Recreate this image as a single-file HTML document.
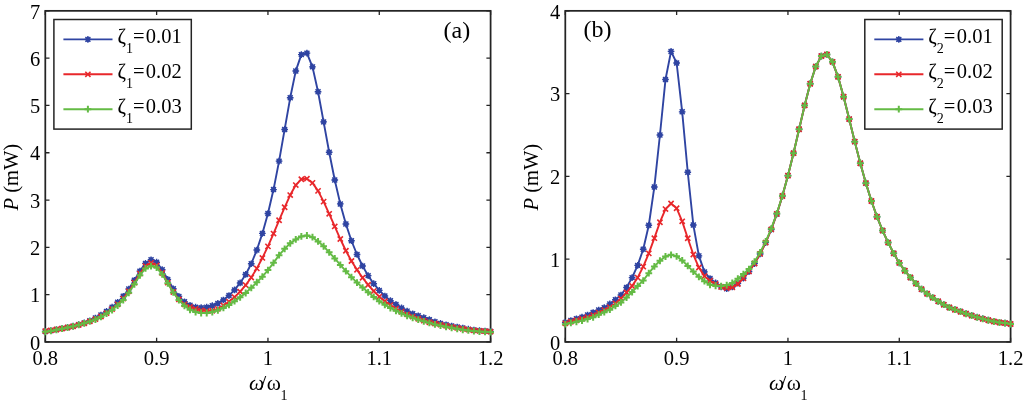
<!DOCTYPE html>
<html><head><meta charset="utf-8"><style>
html,body{margin:0;padding:0;background:#fff;overflow:hidden;}
svg{display:block;will-change:transform;}
text{font-family:"Liberation Serif",serif;font-size:20.5px;fill:#000;}
</style></head><body>
<svg width="1024" height="402" viewBox="0 0 1024 402">
<rect width="1024" height="402" fill="#fff"/>
<rect x="45.3" y="10.85" width="445.3" height="331.09999999999997" fill="none" stroke="#242424" stroke-width="1.75"/>
<path d="M45.30 341.95V337.75M45.30 10.85V15.05M156.62 341.95V337.75M156.62 10.85V15.05M267.95 341.95V337.75M267.95 10.85V15.05M379.28 341.95V337.75M379.28 10.85V15.05M490.60 341.95V337.75M490.60 10.85V15.05M45.3 341.95H49.5M490.6 341.95H486.40000000000003M45.3 294.65H49.5M490.6 294.65H486.40000000000003M45.3 247.35H49.5M490.6 247.35H486.40000000000003M45.3 200.05H49.5M490.6 200.05H486.40000000000003M45.3 152.75H49.5M490.6 152.75H486.40000000000003M45.3 105.45H49.5M490.6 105.45H486.40000000000003M45.3 58.15H49.5M490.6 58.15H486.40000000000003M45.3 10.85H49.5M490.6 10.85H486.40000000000003" stroke="#242424" stroke-width="1.3" fill="none"/>
<text x="45.30" y="365.3" text-anchor="middle">0.8</text>
<text x="156.62" y="365.3" text-anchor="middle">0.9</text>
<text x="267.95" y="365.3" text-anchor="middle">1</text>
<text x="379.28" y="365.3" text-anchor="middle">1.1</text>
<text x="490.60" y="365.3" text-anchor="middle">1.2</text>
<text x="40.30" y="349.65" text-anchor="end">0</text>
<text x="40.30" y="302.35" text-anchor="end">1</text>
<text x="40.30" y="255.05" text-anchor="end">2</text>
<text x="40.30" y="207.75" text-anchor="end">3</text>
<text x="40.30" y="160.45" text-anchor="end">4</text>
<text x="40.30" y="113.15" text-anchor="end">5</text>
<text x="40.30" y="65.85" text-anchor="end">6</text>
<text x="40.30" y="18.55" text-anchor="end">7</text>
<rect x="565.3" y="10.85" width="445.3" height="331.09999999999997" fill="none" stroke="#242424" stroke-width="1.75"/>
<path d="M565.30 341.95V337.75M565.30 10.85V15.05M676.62 341.95V337.75M676.62 10.85V15.05M787.95 341.95V337.75M787.95 10.85V15.05M899.28 341.95V337.75M899.28 10.85V15.05M1010.60 341.95V337.75M1010.60 10.85V15.05M565.3 341.95H569.5M1010.5999999999999 341.95H1006.3999999999999M565.3 259.18H569.5M1010.5999999999999 259.18H1006.3999999999999M565.3 176.40H569.5M1010.5999999999999 176.40H1006.3999999999999M565.3 93.62H569.5M1010.5999999999999 93.62H1006.3999999999999M565.3 10.85H569.5M1010.5999999999999 10.85H1006.3999999999999" stroke="#242424" stroke-width="1.3" fill="none"/>
<text x="565.30" y="365.3" text-anchor="middle">0.8</text>
<text x="676.62" y="365.3" text-anchor="middle">0.9</text>
<text x="787.95" y="365.3" text-anchor="middle">1</text>
<text x="899.28" y="365.3" text-anchor="middle">1.1</text>
<text x="1010.60" y="365.3" text-anchor="middle">1.2</text>
<text x="560.30" y="349.65" text-anchor="end">0</text>
<text x="560.30" y="266.88" text-anchor="end">1</text>
<text x="560.30" y="184.10" text-anchor="end">2</text>
<text x="560.30" y="101.33" text-anchor="end">3</text>
<text x="560.30" y="18.55" text-anchor="end">4</text>
<path d="M45.30 331.46 L50.87 330.64 L56.43 329.62 L62.00 328.56 L67.56 327.44 L73.13 326.15 L78.70 324.67 L84.26 322.93 L89.83 320.74 L95.40 318.01 L100.96 314.99 L106.53 311.43 L112.09 307.22 L117.66 302.30 L123.23 296.33 L128.79 288.98 L134.36 280.28 L139.93 271.12 L145.49 263.38 L151.06 259.79 L156.62 262.21 L162.19 269.72 L167.76 279.39 L173.32 288.80 L178.89 296.41 L184.46 301.82 L190.02 305.31 L195.59 307.15 L201.15 307.71 L206.72 307.13 L212.29 305.69 L217.85 303.40 L223.42 300.01 L228.99 295.57 L234.55 289.95 L240.12 282.96 L245.68 274.44 L251.25 263.74 L256.82 250.05 L262.38 233.39 L267.95 213.50 L273.52 189.59 L279.08 161.12 L284.65 129.44 L290.21 97.81 L295.78 70.93 L301.35 54.60 L306.91 53.12 L312.48 66.86 L318.05 91.79 L323.61 121.90 L329.18 152.25 L334.75 179.97 L340.31 203.91 L345.88 224.06 L351.44 240.74 L357.01 254.50 L362.58 265.98 L368.14 275.65 L373.71 283.71 L379.28 290.40 L384.84 296.01 L390.41 300.63 L395.97 304.46 L401.54 307.93 L407.11 311.11 L412.67 313.84 L418.24 315.73 L423.80 317.63 L429.37 319.61 L434.94 321.74 L440.50 323.46 L446.07 324.80 L451.64 325.98 L457.20 327.02 L462.77 328.04 L468.33 329.16 L473.90 330.01 L479.47 330.62 L485.03 330.99 L490.60 331.54" fill="none" stroke="#2f44a2" stroke-width="1.9" stroke-linejoin="round"/>
<g stroke="#2f44a2" stroke-width="1.4" fill="none"><path d="M41.95 331.46H48.65M45.30 328.11V334.81M42.82 328.98L47.78 333.94M42.82 333.94L47.78 328.98"/><circle cx="45.30" cy="331.46" r="2.5" fill="#2f44a2" stroke="none"/><path d="M47.52 330.64H54.22M50.87 327.29V333.99M48.39 328.16L53.35 333.12M48.39 333.12L53.35 328.16"/><circle cx="50.87" cy="330.64" r="2.5" fill="#2f44a2" stroke="none"/><path d="M53.08 329.62H59.78M56.43 326.27V332.97M53.95 327.14L58.91 332.10M53.95 332.10L58.91 327.14"/><circle cx="56.43" cy="329.62" r="2.5" fill="#2f44a2" stroke="none"/><path d="M58.65 328.56H65.35M62.00 325.21V331.91M59.52 326.08L64.48 331.04M59.52 331.04L64.48 326.08"/><circle cx="62.00" cy="328.56" r="2.5" fill="#2f44a2" stroke="none"/><path d="M64.21 327.44H70.91M67.56 324.09V330.79M65.09 324.96L70.04 329.91M65.09 329.91L70.04 324.96"/><circle cx="67.56" cy="327.44" r="2.5" fill="#2f44a2" stroke="none"/><path d="M69.78 326.15H76.48M73.13 322.80V329.50M70.65 323.67L75.61 328.63M70.65 328.63L75.61 323.67"/><circle cx="73.13" cy="326.15" r="2.5" fill="#2f44a2" stroke="none"/><path d="M75.35 324.67H82.05M78.70 321.32V328.02M76.22 322.19L81.18 327.15M76.22 327.15L81.18 322.19"/><circle cx="78.70" cy="324.67" r="2.5" fill="#2f44a2" stroke="none"/><path d="M80.91 322.93H87.61M84.26 319.58V326.28M81.78 320.45L86.74 325.41M81.78 325.41L86.74 320.45"/><circle cx="84.26" cy="322.93" r="2.5" fill="#2f44a2" stroke="none"/><path d="M86.48 320.74H93.18M89.83 317.39V324.09M87.35 318.26L92.31 323.22M87.35 323.22L92.31 318.26"/><circle cx="89.83" cy="320.74" r="2.5" fill="#2f44a2" stroke="none"/><path d="M92.05 318.01H98.75M95.40 314.66V321.36M92.92 315.53L97.88 320.49M92.92 320.49L97.88 315.53"/><circle cx="95.40" cy="318.01" r="2.5" fill="#2f44a2" stroke="none"/><path d="M97.61 314.99H104.31M100.96 311.64V318.34M98.48 312.52L103.44 317.47M98.48 317.47L103.44 312.52"/><circle cx="100.96" cy="314.99" r="2.5" fill="#2f44a2" stroke="none"/><path d="M103.18 311.43H109.88M106.53 308.08V314.78M104.05 308.95L109.01 313.91M104.05 313.91L109.01 308.95"/><circle cx="106.53" cy="311.43" r="2.5" fill="#2f44a2" stroke="none"/><path d="M108.74 307.22H115.44M112.09 303.87V310.57M109.62 304.74L114.57 309.69M109.62 309.69L114.57 304.74"/><circle cx="112.09" cy="307.22" r="2.5" fill="#2f44a2" stroke="none"/><path d="M114.31 302.30H121.01M117.66 298.95V305.65M115.18 299.82L120.14 304.78M115.18 304.78L120.14 299.82"/><circle cx="117.66" cy="302.30" r="2.5" fill="#2f44a2" stroke="none"/><path d="M119.88 296.33H126.58M123.23 292.98V299.68M120.75 293.85L125.71 298.80M120.75 298.80L125.71 293.85"/><circle cx="123.23" cy="296.33" r="2.5" fill="#2f44a2" stroke="none"/><path d="M125.44 288.98H132.14M128.79 285.63V292.33M126.31 286.50L131.27 291.46M126.31 291.46L131.27 286.50"/><circle cx="128.79" cy="288.98" r="2.5" fill="#2f44a2" stroke="none"/><path d="M131.01 280.28H137.71M134.36 276.93V283.63M131.88 277.80L136.84 282.76M131.88 282.76L136.84 277.80"/><circle cx="134.36" cy="280.28" r="2.5" fill="#2f44a2" stroke="none"/><path d="M136.58 271.12H143.28M139.93 267.77V274.47M137.45 268.64L142.41 273.60M137.45 273.60L142.41 268.64"/><circle cx="139.93" cy="271.12" r="2.5" fill="#2f44a2" stroke="none"/><path d="M142.14 263.38H148.84M145.49 260.03V266.73M143.01 260.90L147.97 265.86M143.01 265.86L147.97 260.90"/><circle cx="145.49" cy="263.38" r="2.5" fill="#2f44a2" stroke="none"/><path d="M147.71 259.79H154.41M151.06 256.44V263.14M148.58 257.31L153.54 262.26M148.58 262.26L153.54 257.31"/><circle cx="151.06" cy="259.79" r="2.5" fill="#2f44a2" stroke="none"/><path d="M153.27 262.21H159.97M156.62 258.86V265.56M154.15 259.73L159.10 264.69M154.15 264.69L159.10 259.73"/><circle cx="156.62" cy="262.21" r="2.5" fill="#2f44a2" stroke="none"/><path d="M158.84 269.72H165.54M162.19 266.37V273.07M159.71 267.24L164.67 272.20M159.71 272.20L164.67 267.24"/><circle cx="162.19" cy="269.72" r="2.5" fill="#2f44a2" stroke="none"/><path d="M164.41 279.39H171.11M167.76 276.04V282.74M165.28 276.91L170.24 281.87M165.28 281.87L170.24 276.91"/><circle cx="167.76" cy="279.39" r="2.5" fill="#2f44a2" stroke="none"/><path d="M169.97 288.80H176.67M173.32 285.45V292.15M170.84 286.32L175.80 291.28M170.84 291.28L175.80 286.32"/><circle cx="173.32" cy="288.80" r="2.5" fill="#2f44a2" stroke="none"/><path d="M175.54 296.41H182.24M178.89 293.06V299.76M176.41 293.93L181.37 298.89M176.41 298.89L181.37 293.93"/><circle cx="178.89" cy="296.41" r="2.5" fill="#2f44a2" stroke="none"/><path d="M181.11 301.82H187.81M184.46 298.47V305.17M181.98 299.34L186.94 304.30M181.98 304.30L186.94 299.34"/><circle cx="184.46" cy="301.82" r="2.5" fill="#2f44a2" stroke="none"/><path d="M186.67 305.31H193.37M190.02 301.96V308.66M187.54 302.83L192.50 307.79M187.54 307.79L192.50 302.83"/><circle cx="190.02" cy="305.31" r="2.5" fill="#2f44a2" stroke="none"/><path d="M192.24 307.15H198.94M195.59 303.80V310.50M193.11 304.67L198.07 309.63M193.11 309.63L198.07 304.67"/><circle cx="195.59" cy="307.15" r="2.5" fill="#2f44a2" stroke="none"/><path d="M197.80 307.71H204.50M201.15 304.36V311.06M198.68 305.23L203.63 310.19M198.68 310.19L203.63 305.23"/><circle cx="201.15" cy="307.71" r="2.5" fill="#2f44a2" stroke="none"/><path d="M203.37 307.13H210.07M206.72 303.78V310.48M204.24 304.65L209.20 309.61M204.24 309.61L209.20 304.65"/><circle cx="206.72" cy="307.13" r="2.5" fill="#2f44a2" stroke="none"/><path d="M208.94 305.69H215.64M212.29 302.34V309.04M209.81 303.22L214.77 308.17M209.81 308.17L214.77 303.22"/><circle cx="212.29" cy="305.69" r="2.5" fill="#2f44a2" stroke="none"/><path d="M214.50 303.40H221.20M217.85 300.05V306.75M215.37 300.93L220.33 305.88M215.37 305.88L220.33 300.93"/><circle cx="217.85" cy="303.40" r="2.5" fill="#2f44a2" stroke="none"/><path d="M220.07 300.01H226.77M223.42 296.66V303.36M220.94 297.54L225.90 302.49M220.94 302.49L225.90 297.54"/><circle cx="223.42" cy="300.01" r="2.5" fill="#2f44a2" stroke="none"/><path d="M225.64 295.57H232.34M228.99 292.22V298.92M226.51 293.09L231.47 298.05M226.51 298.05L231.47 293.09"/><circle cx="228.99" cy="295.57" r="2.5" fill="#2f44a2" stroke="none"/><path d="M231.20 289.95H237.90M234.55 286.60V293.30M232.07 287.47L237.03 292.43M232.07 292.43L237.03 287.47"/><circle cx="234.55" cy="289.95" r="2.5" fill="#2f44a2" stroke="none"/><path d="M236.77 282.96H243.47M240.12 279.61V286.31M237.64 280.48L242.60 285.44M237.64 285.44L242.60 280.48"/><circle cx="240.12" cy="282.96" r="2.5" fill="#2f44a2" stroke="none"/><path d="M242.33 274.44H249.03M245.68 271.09V277.79M243.21 271.96L248.16 276.92M243.21 276.92L248.16 271.96"/><circle cx="245.68" cy="274.44" r="2.5" fill="#2f44a2" stroke="none"/><path d="M247.90 263.74H254.60M251.25 260.39V267.09M248.77 261.26L253.73 266.21M248.77 266.21L253.73 261.26"/><circle cx="251.25" cy="263.74" r="2.5" fill="#2f44a2" stroke="none"/><path d="M253.47 250.05H260.17M256.82 246.70V253.40M254.34 247.57L259.30 252.52M254.34 252.52L259.30 247.57"/><circle cx="256.82" cy="250.05" r="2.5" fill="#2f44a2" stroke="none"/><path d="M259.03 233.39H265.73M262.38 230.04V236.74M259.90 230.91L264.86 235.87M259.90 235.87L264.86 230.91"/><circle cx="262.38" cy="233.39" r="2.5" fill="#2f44a2" stroke="none"/><path d="M264.60 213.50H271.30M267.95 210.15V216.85M265.47 211.02L270.43 215.98M265.47 215.98L270.43 211.02"/><circle cx="267.95" cy="213.50" r="2.5" fill="#2f44a2" stroke="none"/><path d="M270.17 189.59H276.87M273.52 186.24V192.94M271.04 187.11L276.00 192.07M271.04 192.07L276.00 187.11"/><circle cx="273.52" cy="189.59" r="2.5" fill="#2f44a2" stroke="none"/><path d="M275.73 161.12H282.43M279.08 157.77V164.47M276.60 158.64L281.56 163.60M276.60 163.60L281.56 158.64"/><circle cx="279.08" cy="161.12" r="2.5" fill="#2f44a2" stroke="none"/><path d="M281.30 129.44H288.00M284.65 126.09V132.79M282.17 126.97L287.13 131.92M282.17 131.92L287.13 126.97"/><circle cx="284.65" cy="129.44" r="2.5" fill="#2f44a2" stroke="none"/><path d="M286.86 97.81H293.56M290.21 94.46V101.16M287.74 95.33L292.69 100.28M287.74 100.28L292.69 95.33"/><circle cx="290.21" cy="97.81" r="2.5" fill="#2f44a2" stroke="none"/><path d="M292.43 70.93H299.13M295.78 67.58V74.28M293.30 68.45L298.26 73.41M293.30 73.41L298.26 68.45"/><circle cx="295.78" cy="70.93" r="2.5" fill="#2f44a2" stroke="none"/><path d="M298.00 54.60H304.70M301.35 51.25V57.95M298.87 52.12L303.83 57.08M298.87 57.08L303.83 52.12"/><circle cx="301.35" cy="54.60" r="2.5" fill="#2f44a2" stroke="none"/><path d="M303.56 53.12H310.26M306.91 49.77V56.47M304.43 50.64L309.39 55.59M304.43 55.59L309.39 50.64"/><circle cx="306.91" cy="53.12" r="2.5" fill="#2f44a2" stroke="none"/><path d="M309.13 66.86H315.83M312.48 63.51V70.21M310.00 64.38L314.96 69.34M310.00 69.34L314.96 64.38"/><circle cx="312.48" cy="66.86" r="2.5" fill="#2f44a2" stroke="none"/><path d="M314.70 91.79H321.40M318.05 88.44V95.14M315.57 89.31L320.53 94.26M315.57 94.26L320.53 89.31"/><circle cx="318.05" cy="91.79" r="2.5" fill="#2f44a2" stroke="none"/><path d="M320.26 121.90H326.96M323.61 118.55V125.25M321.13 119.42L326.09 124.38M321.13 124.38L326.09 119.42"/><circle cx="323.61" cy="121.90" r="2.5" fill="#2f44a2" stroke="none"/><path d="M325.83 152.25H332.53M329.18 148.90V155.60M326.70 149.77L331.66 154.73M326.70 154.73L331.66 149.77"/><circle cx="329.18" cy="152.25" r="2.5" fill="#2f44a2" stroke="none"/><path d="M331.39 179.97H338.10M334.75 176.62V183.32M332.27 177.49L337.22 182.45M332.27 182.45L337.22 177.49"/><circle cx="334.75" cy="179.97" r="2.5" fill="#2f44a2" stroke="none"/><path d="M336.96 203.91H343.66M340.31 200.56V207.26M337.83 201.43L342.79 206.39M337.83 206.39L342.79 201.43"/><circle cx="340.31" cy="203.91" r="2.5" fill="#2f44a2" stroke="none"/><path d="M342.53 224.06H349.23M345.88 220.71V227.41M343.40 221.58L348.36 226.54M343.40 226.54L348.36 221.58"/><circle cx="345.88" cy="224.06" r="2.5" fill="#2f44a2" stroke="none"/><path d="M348.09 240.74H354.79M351.44 237.39V244.09M348.96 238.26L353.92 243.22M348.96 243.22L353.92 238.26"/><circle cx="351.44" cy="240.74" r="2.5" fill="#2f44a2" stroke="none"/><path d="M353.66 254.50H360.36M357.01 251.15V257.85M354.53 252.02L359.49 256.98M354.53 256.98L359.49 252.02"/><circle cx="357.01" cy="254.50" r="2.5" fill="#2f44a2" stroke="none"/><path d="M359.23 265.98H365.93M362.58 262.63V269.33M360.10 263.50L365.06 268.46M360.10 268.46L365.06 263.50"/><circle cx="362.58" cy="265.98" r="2.5" fill="#2f44a2" stroke="none"/><path d="M364.79 275.65H371.49M368.14 272.30V279.00M365.66 273.17L370.62 278.13M365.66 278.13L370.62 273.17"/><circle cx="368.14" cy="275.65" r="2.5" fill="#2f44a2" stroke="none"/><path d="M370.36 283.71H377.06M373.71 280.36V287.06M371.23 281.23L376.19 286.19M371.23 286.19L376.19 281.23"/><circle cx="373.71" cy="283.71" r="2.5" fill="#2f44a2" stroke="none"/><path d="M375.93 290.40H382.63M379.28 287.05V293.75M376.80 287.92L381.75 292.88M376.80 292.88L381.75 287.92"/><circle cx="379.28" cy="290.40" r="2.5" fill="#2f44a2" stroke="none"/><path d="M381.49 296.01H388.19M384.84 292.66V299.36M382.36 293.53L387.32 298.49M382.36 298.49L387.32 293.53"/><circle cx="384.84" cy="296.01" r="2.5" fill="#2f44a2" stroke="none"/><path d="M387.06 300.63H393.76M390.41 297.28V303.98M387.93 298.15L392.89 303.11M387.93 303.11L392.89 298.15"/><circle cx="390.41" cy="300.63" r="2.5" fill="#2f44a2" stroke="none"/><path d="M392.62 304.46H399.32M395.97 301.11V307.81M393.49 301.98L398.45 306.94M393.49 306.94L398.45 301.98"/><circle cx="395.97" cy="304.46" r="2.5" fill="#2f44a2" stroke="none"/><path d="M398.19 307.93H404.89M401.54 304.58V311.28M399.06 305.45L404.02 310.41M399.06 310.41L404.02 305.45"/><circle cx="401.54" cy="307.93" r="2.5" fill="#2f44a2" stroke="none"/><path d="M403.76 311.11H410.46M407.11 307.76V314.46M404.63 308.63L409.59 313.59M404.63 313.59L409.59 308.63"/><circle cx="407.11" cy="311.11" r="2.5" fill="#2f44a2" stroke="none"/><path d="M409.32 313.84H416.02M412.67 310.49V317.19M410.19 311.36L415.15 316.32M410.19 316.32L415.15 311.36"/><circle cx="412.67" cy="313.84" r="2.5" fill="#2f44a2" stroke="none"/><path d="M414.89 315.73H421.59M418.24 312.38V319.08M415.76 313.25L420.72 318.20M415.76 318.20L420.72 313.25"/><circle cx="418.24" cy="315.73" r="2.5" fill="#2f44a2" stroke="none"/><path d="M420.45 317.63H427.15M423.80 314.28V320.98M421.33 315.15L426.28 320.11M421.33 320.11L426.28 315.15"/><circle cx="423.80" cy="317.63" r="2.5" fill="#2f44a2" stroke="none"/><path d="M426.02 319.61H432.72M429.37 316.26V322.96M426.89 317.13L431.85 322.08M426.89 322.08L431.85 317.13"/><circle cx="429.37" cy="319.61" r="2.5" fill="#2f44a2" stroke="none"/><path d="M431.59 321.74H438.29M434.94 318.39V325.09M432.46 319.26L437.42 324.22M432.46 324.22L437.42 319.26"/><circle cx="434.94" cy="321.74" r="2.5" fill="#2f44a2" stroke="none"/><path d="M437.15 323.46H443.85M440.50 320.11V326.81M438.02 320.98L442.98 325.94M438.02 325.94L442.98 320.98"/><circle cx="440.50" cy="323.46" r="2.5" fill="#2f44a2" stroke="none"/><path d="M442.72 324.80H449.42M446.07 321.45V328.15M443.59 322.33L448.55 327.28M443.59 327.28L448.55 322.33"/><circle cx="446.07" cy="324.80" r="2.5" fill="#2f44a2" stroke="none"/><path d="M448.29 325.98H454.99M451.64 322.63V329.33M449.16 323.50L454.12 328.46M449.16 328.46L454.12 323.50"/><circle cx="451.64" cy="325.98" r="2.5" fill="#2f44a2" stroke="none"/><path d="M453.85 327.02H460.55M457.20 323.67V330.37M454.72 324.54L459.68 329.49M454.72 329.49L459.68 324.54"/><circle cx="457.20" cy="327.02" r="2.5" fill="#2f44a2" stroke="none"/><path d="M459.42 328.04H466.12M462.77 324.69V331.39M460.29 325.56L465.25 330.52M460.29 330.52L465.25 325.56"/><circle cx="462.77" cy="328.04" r="2.5" fill="#2f44a2" stroke="none"/><path d="M464.98 329.16H471.68M468.33 325.81V332.51M465.86 326.68L470.81 331.64M465.86 331.64L470.81 326.68"/><circle cx="468.33" cy="329.16" r="2.5" fill="#2f44a2" stroke="none"/><path d="M470.55 330.01H477.25M473.90 326.66V333.36M471.42 327.54L476.38 332.49M471.42 332.49L476.38 327.54"/><circle cx="473.90" cy="330.01" r="2.5" fill="#2f44a2" stroke="none"/><path d="M476.12 330.62H482.82M479.47 327.27V333.97M476.99 328.14L481.95 333.09M476.99 333.09L481.95 328.14"/><circle cx="479.47" cy="330.62" r="2.5" fill="#2f44a2" stroke="none"/><path d="M481.68 330.99H488.38M485.03 327.64V334.34M482.55 328.51L487.51 333.46M482.55 333.46L487.51 328.51"/><circle cx="485.03" cy="330.99" r="2.5" fill="#2f44a2" stroke="none"/><path d="M487.25 331.54H493.95M490.60 328.19V334.89M488.12 329.06L493.08 334.02M488.12 334.02L493.08 329.06"/><circle cx="490.60" cy="331.54" r="2.5" fill="#2f44a2" stroke="none"/></g>
<path d="M45.30 331.08 L50.87 330.34 L56.43 329.52 L62.00 328.59 L67.56 327.54 L73.13 326.34 L78.70 324.95 L84.26 323.34 L89.83 321.44 L95.40 319.19 L100.96 316.50 L106.53 313.19 L112.09 309.16 L117.66 304.40 L123.23 298.58 L128.79 291.32 L134.36 282.69 L139.93 273.58 L145.49 266.06 L151.06 262.85 L156.62 265.47 L162.19 272.98 L167.76 282.67 L173.32 292.00 L178.89 299.43 L184.46 304.35 L190.02 306.95 L195.59 308.84 L201.15 310.50 L206.72 311.11 L212.29 310.73 L217.85 308.84 L223.42 305.53 L228.99 301.62 L234.55 297.06 L240.12 291.56 L245.68 285.11 L251.25 277.54 L256.82 268.41 L262.38 257.93 L267.95 246.35 L273.52 233.56 L279.08 220.27 L284.65 207.27 L290.21 195.07 L295.78 185.08 L301.35 179.22 L306.91 178.66 L312.48 182.89 L318.05 190.85 L323.61 201.64 L329.18 213.83 L334.75 226.45 L340.31 239.02 L345.88 250.77 L351.44 261.00 L357.01 269.84 L362.58 277.74 L368.14 284.79 L373.71 291.08 L379.28 296.63 L384.84 301.22 L390.41 305.07 L395.97 308.57 L401.54 311.78 L407.11 314.41 L412.67 316.62 L418.24 318.73 L423.80 320.65 L429.37 322.27 L434.94 323.51 L440.50 324.66 L446.07 325.83 L451.64 326.90 L457.20 327.88 L462.77 328.76 L468.33 329.57 L473.90 330.30 L479.47 330.84 L485.03 331.20 L490.60 331.69" fill="none" stroke="#e8272b" stroke-width="1.9" stroke-linejoin="round"/>
<g stroke="#e8272b" stroke-width="1.6" fill="none"><path d="M42.70 328.48L47.90 333.68M42.70 333.68L47.90 328.48"/><path d="M48.27 327.74L53.47 332.94M48.27 332.94L53.47 327.74"/><path d="M53.83 326.92L59.03 332.12M53.83 332.12L59.03 326.92"/><path d="M59.40 325.99L64.60 331.19M59.40 331.19L64.60 325.99"/><path d="M64.96 324.94L70.16 330.14M64.96 330.14L70.16 324.94"/><path d="M70.53 323.74L75.73 328.94M70.53 328.94L75.73 323.74"/><path d="M76.10 322.35L81.30 327.55M76.10 327.55L81.30 322.35"/><path d="M81.66 320.74L86.86 325.94M81.66 325.94L86.86 320.74"/><path d="M87.23 318.84L92.43 324.04M87.23 324.04L92.43 318.84"/><path d="M92.80 316.59L98.00 321.79M92.80 321.79L98.00 316.59"/><path d="M98.36 313.90L103.56 319.10M98.36 319.10L103.56 313.90"/><path d="M103.93 310.59L109.13 315.79M103.93 315.79L109.13 310.59"/><path d="M109.49 306.56L114.69 311.76M109.49 311.76L114.69 306.56"/><path d="M115.06 301.80L120.26 307.00M115.06 307.00L120.26 301.80"/><path d="M120.63 295.98L125.83 301.18M120.63 301.18L125.83 295.98"/><path d="M126.19 288.72L131.39 293.92M126.19 293.92L131.39 288.72"/><path d="M131.76 280.09L136.96 285.29M131.76 285.29L136.96 280.09"/><path d="M137.33 270.98L142.53 276.18M137.33 276.18L142.53 270.98"/><path d="M142.89 263.46L148.09 268.66M142.89 268.66L148.09 263.46"/><path d="M148.46 260.25L153.66 265.45M148.46 265.45L153.66 260.25"/><path d="M154.02 262.87L159.22 268.07M154.02 268.07L159.22 262.87"/><path d="M159.59 270.38L164.79 275.58M159.59 275.58L164.79 270.38"/><path d="M165.16 280.07L170.36 285.27M165.16 285.27L170.36 280.07"/><path d="M170.72 289.40L175.92 294.60M170.72 294.60L175.92 289.40"/><path d="M176.29 296.83L181.49 302.03M176.29 302.03L181.49 296.83"/><path d="M181.86 301.75L187.06 306.95M181.86 306.95L187.06 301.75"/><path d="M187.42 304.35L192.62 309.55M187.42 309.55L192.62 304.35"/><path d="M192.99 306.24L198.19 311.44M192.99 311.44L198.19 306.24"/><path d="M198.55 307.90L203.75 313.10M198.55 313.10L203.75 307.90"/><path d="M204.12 308.51L209.32 313.71M204.12 313.71L209.32 308.51"/><path d="M209.69 308.13L214.89 313.33M209.69 313.33L214.89 308.13"/><path d="M215.25 306.24L220.45 311.44M215.25 311.44L220.45 306.24"/><path d="M220.82 302.93L226.02 308.13M220.82 308.13L226.02 302.93"/><path d="M226.39 299.02L231.59 304.22M226.39 304.22L231.59 299.02"/><path d="M231.95 294.46L237.15 299.66M231.95 299.66L237.15 294.46"/><path d="M237.52 288.96L242.72 294.16M237.52 294.16L242.72 288.96"/><path d="M243.08 282.51L248.28 287.71M243.08 287.71L248.28 282.51"/><path d="M248.65 274.94L253.85 280.14M248.65 280.14L253.85 274.94"/><path d="M254.22 265.81L259.42 271.01M254.22 271.01L259.42 265.81"/><path d="M259.78 255.33L264.98 260.53M259.78 260.53L264.98 255.33"/><path d="M265.35 243.75L270.55 248.95M265.35 248.95L270.55 243.75"/><path d="M270.92 230.96L276.12 236.16M270.92 236.16L276.12 230.96"/><path d="M276.48 217.67L281.68 222.87M276.48 222.87L281.68 217.67"/><path d="M282.05 204.67L287.25 209.87M282.05 209.87L287.25 204.67"/><path d="M287.61 192.47L292.81 197.67M287.61 197.67L292.81 192.47"/><path d="M293.18 182.48L298.38 187.68M293.18 187.68L298.38 182.48"/><path d="M298.75 176.62L303.95 181.82M298.75 181.82L303.95 176.62"/><path d="M304.31 176.06L309.51 181.26M304.31 181.26L309.51 176.06"/><path d="M309.88 180.29L315.08 185.49M309.88 185.49L315.08 180.29"/><path d="M315.45 188.25L320.65 193.45M315.45 193.45L320.65 188.25"/><path d="M321.01 199.04L326.21 204.24M321.01 204.24L326.21 199.04"/><path d="M326.58 211.23L331.78 216.43M326.58 216.43L331.78 211.23"/><path d="M332.14 223.85L337.35 229.05M332.14 229.05L337.35 223.85"/><path d="M337.71 236.42L342.91 241.62M337.71 241.62L342.91 236.42"/><path d="M343.28 248.17L348.48 253.37M343.28 253.37L348.48 248.17"/><path d="M348.84 258.40L354.04 263.60M348.84 263.60L354.04 258.40"/><path d="M354.41 267.24L359.61 272.44M354.41 272.44L359.61 267.24"/><path d="M359.98 275.14L365.18 280.34M359.98 280.34L365.18 275.14"/><path d="M365.54 282.19L370.74 287.39M365.54 287.39L370.74 282.19"/><path d="M371.11 288.48L376.31 293.68M371.11 293.68L376.31 288.48"/><path d="M376.68 294.03L381.88 299.23M376.68 299.23L381.88 294.03"/><path d="M382.24 298.62L387.44 303.82M382.24 303.82L387.44 298.62"/><path d="M387.81 302.47L393.01 307.67M387.81 307.67L393.01 302.47"/><path d="M393.37 305.97L398.57 311.17M393.37 311.17L398.57 305.97"/><path d="M398.94 309.18L404.14 314.38M398.94 314.38L404.14 309.18"/><path d="M404.51 311.81L409.71 317.01M404.51 317.01L409.71 311.81"/><path d="M410.07 314.02L415.27 319.22M410.07 319.22L415.27 314.02"/><path d="M415.64 316.13L420.84 321.33M415.64 321.33L420.84 316.13"/><path d="M421.20 318.05L426.40 323.25M421.20 323.25L426.40 318.05"/><path d="M426.77 319.67L431.97 324.87M426.77 324.87L431.97 319.67"/><path d="M432.34 320.91L437.54 326.11M432.34 326.11L437.54 320.91"/><path d="M437.90 322.06L443.10 327.26M437.90 327.26L443.10 322.06"/><path d="M443.47 323.23L448.67 328.43M443.47 328.43L448.67 323.23"/><path d="M449.04 324.30L454.24 329.50M449.04 329.50L454.24 324.30"/><path d="M454.60 325.28L459.80 330.48M454.60 330.48L459.80 325.28"/><path d="M460.17 326.16L465.37 331.36M460.17 331.36L465.37 326.16"/><path d="M465.73 326.97L470.93 332.17M465.73 332.17L470.93 326.97"/><path d="M471.30 327.70L476.50 332.90M471.30 332.90L476.50 327.70"/><path d="M476.87 328.24L482.07 333.44M476.87 333.44L482.07 328.24"/><path d="M482.43 328.60L487.63 333.80M482.43 333.80L487.63 328.60"/><path d="M488.00 329.09L493.20 334.29M488.00 334.29L493.20 329.09"/></g>
<path d="M45.30 331.82 L50.87 330.97 L56.43 329.78 L62.00 328.66 L67.56 327.58 L73.13 326.36 L78.70 324.95 L84.26 323.32 L89.83 321.40 L95.40 319.48 L100.96 316.88 L106.53 313.57 L112.09 310.02 L117.66 305.53 L123.23 300.04 L128.79 292.76 L134.36 284.24 L139.93 275.26 L145.49 268.40 L151.06 266.03 L156.62 267.58 L162.19 274.30 L167.76 283.29 L173.32 292.39 L178.89 300.07 L184.46 305.86 L190.02 309.74 L195.59 312.02 L201.15 313.02 L206.72 312.98 L212.29 312.03 L217.85 310.29 L223.42 307.93 L228.99 304.90 L234.55 301.22 L240.12 297.29 L245.68 292.98 L251.25 287.80 L256.82 282.26 L262.38 276.68 L267.95 270.10 L273.52 262.86 L279.08 255.15 L284.65 248.86 L290.21 243.28 L295.78 239.40 L301.35 236.38 L306.91 235.52 L312.48 237.18 L318.05 241.39 L323.61 246.26 L329.18 252.32 L334.75 258.47 L340.31 264.95 L345.88 271.14 L351.44 277.15 L357.01 282.59 L362.58 287.56 L368.14 292.28 L373.71 296.92 L379.28 301.18 L384.84 304.82 L390.41 307.99 L395.97 310.87 L401.54 313.43 L407.11 315.75 L412.67 317.83 L418.24 319.72 L423.80 321.33 L429.37 322.84 L434.94 324.45 L440.50 325.68 L446.07 326.77 L451.64 327.85 L457.20 328.80 L462.77 329.75 L468.33 330.46 L473.90 331.07 L479.47 331.59 L485.03 331.83 L490.60 332.16" fill="none" stroke="#64bb45" stroke-width="1.9" stroke-linejoin="round"/>
<g stroke="#64bb45" stroke-width="2.0" fill="none"><path d="M41.90 331.82H48.70M45.30 328.42V335.22"/><path d="M47.47 330.97H54.27M50.87 327.57V334.37"/><path d="M53.03 329.78H59.83M56.43 326.38V333.18"/><path d="M58.60 328.66H65.40M62.00 325.26V332.06"/><path d="M64.16 327.58H70.96M67.56 324.18V330.98"/><path d="M69.73 326.36H76.53M73.13 322.96V329.76"/><path d="M75.30 324.95H82.10M78.70 321.55V328.35"/><path d="M80.86 323.32H87.66M84.26 319.92V326.72"/><path d="M86.43 321.40H93.23M89.83 318.00V324.80"/><path d="M92.00 319.48H98.80M95.40 316.08V322.88"/><path d="M97.56 316.88H104.36M100.96 313.48V320.28"/><path d="M103.13 313.57H109.93M106.53 310.17V316.97"/><path d="M108.69 310.02H115.49M112.09 306.62V313.42"/><path d="M114.26 305.53H121.06M117.66 302.13V308.93"/><path d="M119.83 300.04H126.63M123.23 296.64V303.44"/><path d="M125.39 292.76H132.19M128.79 289.36V296.16"/><path d="M130.96 284.24H137.76M134.36 280.84V287.64"/><path d="M136.53 275.26H143.33M139.93 271.86V278.66"/><path d="M142.09 268.40H148.89M145.49 265.00V271.80"/><path d="M147.66 266.03H154.46M151.06 262.63V269.43"/><path d="M153.22 267.58H160.02M156.62 264.18V270.98"/><path d="M158.79 274.30H165.59M162.19 270.90V277.70"/><path d="M164.36 283.29H171.16M167.76 279.89V286.69"/><path d="M169.92 292.39H176.72M173.32 288.99V295.79"/><path d="M175.49 300.07H182.29M178.89 296.67V303.47"/><path d="M181.06 305.86H187.86M184.46 302.46V309.26"/><path d="M186.62 309.74H193.42M190.02 306.34V313.14"/><path d="M192.19 312.02H198.99M195.59 308.62V315.42"/><path d="M197.75 313.02H204.55M201.15 309.62V316.42"/><path d="M203.32 312.98H210.12M206.72 309.58V316.38"/><path d="M208.89 312.03H215.69M212.29 308.63V315.43"/><path d="M214.45 310.29H221.25M217.85 306.89V313.69"/><path d="M220.02 307.93H226.82M223.42 304.53V311.33"/><path d="M225.59 304.90H232.39M228.99 301.50V308.30"/><path d="M231.15 301.22H237.95M234.55 297.82V304.62"/><path d="M236.72 297.29H243.52M240.12 293.89V300.69"/><path d="M242.28 292.98H249.08M245.68 289.58V296.38"/><path d="M247.85 287.80H254.65M251.25 284.40V291.20"/><path d="M253.42 282.26H260.22M256.82 278.86V285.66"/><path d="M258.98 276.68H265.78M262.38 273.28V280.08"/><path d="M264.55 270.10H271.35M267.95 266.70V273.50"/><path d="M270.12 262.86H276.92M273.52 259.46V266.26"/><path d="M275.68 255.15H282.48M279.08 251.75V258.55"/><path d="M281.25 248.86H288.05M284.65 245.46V252.26"/><path d="M286.81 243.28H293.61M290.21 239.88V246.68"/><path d="M292.38 239.40H299.18M295.78 236.00V242.80"/><path d="M297.95 236.38H304.75M301.35 232.98V239.78"/><path d="M303.51 235.52H310.31M306.91 232.12V238.92"/><path d="M309.08 237.18H315.88M312.48 233.78V240.58"/><path d="M314.65 241.39H321.45M318.05 237.99V244.79"/><path d="M320.21 246.26H327.01M323.61 242.86V249.66"/><path d="M325.78 252.32H332.58M329.18 248.92V255.72"/><path d="M331.35 258.47H338.14M334.75 255.07V261.87"/><path d="M336.91 264.95H343.71M340.31 261.55V268.35"/><path d="M342.48 271.14H349.28M345.88 267.74V274.54"/><path d="M348.04 277.15H354.84M351.44 273.75V280.55"/><path d="M353.61 282.59H360.41M357.01 279.19V285.99"/><path d="M359.18 287.56H365.98M362.58 284.16V290.95"/><path d="M364.74 292.28H371.54M368.14 288.88V295.68"/><path d="M370.31 296.92H377.11M373.71 293.52V300.32"/><path d="M375.88 301.18H382.68M379.28 297.78V304.58"/><path d="M381.44 304.82H388.24M384.84 301.42V308.22"/><path d="M387.01 307.99H393.81M390.41 304.59V311.39"/><path d="M392.57 310.87H399.37M395.97 307.47V314.27"/><path d="M398.14 313.43H404.94M401.54 310.03V316.83"/><path d="M403.71 315.75H410.51M407.11 312.35V319.15"/><path d="M409.27 317.83H416.07M412.67 314.43V321.23"/><path d="M414.84 319.72H421.64M418.24 316.32V323.12"/><path d="M420.40 321.33H427.20M423.80 317.93V324.73"/><path d="M425.97 322.84H432.77M429.37 319.44V326.24"/><path d="M431.54 324.45H438.34M434.94 321.05V327.85"/><path d="M437.10 325.68H443.90M440.50 322.28V329.08"/><path d="M442.67 326.77H449.47M446.07 323.37V330.17"/><path d="M448.24 327.85H455.04M451.64 324.45V331.25"/><path d="M453.80 328.80H460.60M457.20 325.40V332.20"/><path d="M459.37 329.75H466.17M462.77 326.35V333.15"/><path d="M464.93 330.46H471.73M468.33 327.06V333.86"/><path d="M470.50 331.07H477.30M473.90 327.67V334.47"/><path d="M476.07 331.59H482.87M479.47 328.19V334.99"/><path d="M481.63 331.83H488.43M485.03 328.43V335.23"/><path d="M487.20 332.16H494.00M490.60 328.76V335.56"/></g>
<path d="M565.30 322.50 L570.87 320.59 L576.43 318.77 L582.00 317.12 L587.56 315.05 L593.13 312.56 L598.70 310.08 L604.26 307.68 L609.83 303.96 L615.40 299.82 L620.96 295.02 L626.53 287.57 L632.09 277.63 L637.66 265.38 L643.23 249.24 L648.79 225.24 L654.36 186.96 L659.93 135.01 L665.49 79.55 L671.06 51.41 L676.62 63.00 L682.19 111.84 L687.76 172.26 L693.32 224.94 L698.89 255.86 L704.46 271.92 L710.02 278.54 L715.59 282.93 L721.15 286.90 L726.72 288.73 L732.29 286.90 L737.85 283.26 L743.42 278.13 L748.99 271.55 L754.55 263.56 L760.12 253.93 L765.68 242.64 L771.25 229.47 L776.82 213.92 L782.38 196.06 L787.95 175.61 L793.52 153.13 L799.08 129.22 L804.65 105.35 L810.21 83.71 L815.78 66.53 L821.35 56.09 L826.91 54.49 L832.48 61.85 L838.05 76.85 L843.61 96.83 L849.18 119.10 L854.74 141.64 L860.31 163.22 L865.88 183.15 L871.44 201.00 L877.01 216.71 L882.58 230.54 L888.14 242.54 L893.71 253.36 L899.28 262.86 L904.84 270.73 L910.41 277.43 L915.97 283.55 L921.54 289.16 L927.11 293.76 L932.67 297.62 L938.24 301.30 L943.80 304.66 L949.37 307.46 L954.94 309.58 L960.50 311.55 L966.07 313.59 L971.64 315.45 L977.20 317.15 L982.77 318.69 L988.33 320.09 L993.90 321.36 L999.47 322.35 L1005.03 323.06 L1010.60 323.94" fill="none" stroke="#2f44a2" stroke-width="1.9" stroke-linejoin="round"/>
<g stroke="#2f44a2" stroke-width="1.4" fill="none"><path d="M561.95 322.50H568.65M565.30 319.15V325.85M562.82 320.02L567.78 324.98M562.82 324.98L567.78 320.02"/><circle cx="565.30" cy="322.50" r="2.5" fill="#2f44a2" stroke="none"/><path d="M567.52 320.59H574.22M570.87 317.24V323.94M568.39 318.12L573.35 323.07M568.39 323.07L573.35 318.12"/><circle cx="570.87" cy="320.59" r="2.5" fill="#2f44a2" stroke="none"/><path d="M573.08 318.77H579.78M576.43 315.42V322.12M573.95 316.29L578.91 321.25M573.95 321.25L578.91 316.29"/><circle cx="576.43" cy="318.77" r="2.5" fill="#2f44a2" stroke="none"/><path d="M578.65 317.12H585.35M582.00 313.77V320.47M579.52 314.64L584.48 319.60M579.52 319.60L584.48 314.64"/><circle cx="582.00" cy="317.12" r="2.5" fill="#2f44a2" stroke="none"/><path d="M584.21 315.05H590.91M587.56 311.70V318.40M585.09 312.57L590.04 317.53M585.09 317.53L590.04 312.57"/><circle cx="587.56" cy="315.05" r="2.5" fill="#2f44a2" stroke="none"/><path d="M589.78 312.56H596.48M593.13 309.21V315.91M590.65 310.09L595.61 315.04M590.65 315.04L595.61 310.09"/><circle cx="593.13" cy="312.56" r="2.5" fill="#2f44a2" stroke="none"/><path d="M595.35 310.08H602.05M598.70 306.73V313.43M596.22 307.60L601.18 312.56M596.22 312.56L601.18 307.60"/><circle cx="598.70" cy="310.08" r="2.5" fill="#2f44a2" stroke="none"/><path d="M600.91 307.68H607.61M604.26 304.33V311.03M601.78 305.20L606.74 310.16M601.78 310.16L606.74 305.20"/><circle cx="604.26" cy="307.68" r="2.5" fill="#2f44a2" stroke="none"/><path d="M606.48 303.96H613.18M609.83 300.61V307.31M607.35 301.48L612.31 306.44M607.35 306.44L612.31 301.48"/><circle cx="609.83" cy="303.96" r="2.5" fill="#2f44a2" stroke="none"/><path d="M612.05 299.82H618.75M615.40 296.47V303.17M612.92 297.34L617.88 302.30M612.92 302.30L617.88 297.34"/><circle cx="615.40" cy="299.82" r="2.5" fill="#2f44a2" stroke="none"/><path d="M617.61 295.02H624.31M620.96 291.67V298.37M618.48 292.54L623.44 297.50M618.48 297.50L623.44 292.54"/><circle cx="620.96" cy="295.02" r="2.5" fill="#2f44a2" stroke="none"/><path d="M623.18 287.57H629.88M626.53 284.22V290.92M624.05 285.09L629.01 290.05M624.05 290.05L629.01 285.09"/><circle cx="626.53" cy="287.57" r="2.5" fill="#2f44a2" stroke="none"/><path d="M628.74 277.63H635.44M632.09 274.28V280.98M629.62 275.15L634.57 280.11M629.62 280.11L634.57 275.15"/><circle cx="632.09" cy="277.63" r="2.5" fill="#2f44a2" stroke="none"/><path d="M634.31 265.38H641.01M637.66 262.03V268.73M635.18 262.90L640.14 267.86M635.18 267.86L640.14 262.90"/><circle cx="637.66" cy="265.38" r="2.5" fill="#2f44a2" stroke="none"/><path d="M639.88 249.24H646.58M643.23 245.89V252.59M640.75 246.76L645.71 251.72M640.75 251.72L645.71 246.76"/><circle cx="643.23" cy="249.24" r="2.5" fill="#2f44a2" stroke="none"/><path d="M645.44 225.24H652.14M648.79 221.89V228.59M646.31 222.76L651.27 227.72M646.31 227.72L651.27 222.76"/><circle cx="648.79" cy="225.24" r="2.5" fill="#2f44a2" stroke="none"/><path d="M651.01 186.96H657.71M654.36 183.61V190.31M651.88 184.48L656.84 189.44M651.88 189.44L656.84 184.48"/><circle cx="654.36" cy="186.96" r="2.5" fill="#2f44a2" stroke="none"/><path d="M656.58 135.01H663.28M659.93 131.66V138.36M657.45 132.53L662.41 137.49M657.45 137.49L662.41 132.53"/><circle cx="659.93" cy="135.01" r="2.5" fill="#2f44a2" stroke="none"/><path d="M662.14 79.55H668.84M665.49 76.20V82.90M663.01 77.07L667.97 82.03M663.01 82.03L667.97 77.07"/><circle cx="665.49" cy="79.55" r="2.5" fill="#2f44a2" stroke="none"/><path d="M667.71 51.41H674.41M671.06 48.06V54.76M668.58 48.93L673.54 53.89M668.58 53.89L673.54 48.93"/><circle cx="671.06" cy="51.41" r="2.5" fill="#2f44a2" stroke="none"/><path d="M673.27 63.00H679.97M676.62 59.65V66.35M674.15 60.52L679.10 65.48M674.15 65.48L679.10 60.52"/><circle cx="676.62" cy="63.00" r="2.5" fill="#2f44a2" stroke="none"/><path d="M678.84 111.84H685.54M682.19 108.49V115.19M679.71 109.36L684.67 114.31M679.71 114.31L684.67 109.36"/><circle cx="682.19" cy="111.84" r="2.5" fill="#2f44a2" stroke="none"/><path d="M684.41 172.26H691.11M687.76 168.91V175.61M685.28 169.78L690.24 174.74M685.28 174.74L690.24 169.78"/><circle cx="687.76" cy="172.26" r="2.5" fill="#2f44a2" stroke="none"/><path d="M689.97 224.94H696.67M693.32 221.59V228.29M690.84 222.46L695.80 227.42M690.84 227.42L695.80 222.46"/><circle cx="693.32" cy="224.94" r="2.5" fill="#2f44a2" stroke="none"/><path d="M695.54 255.86H702.24M698.89 252.51V259.21M696.41 253.38L701.37 258.34M696.41 258.34L701.37 253.38"/><circle cx="698.89" cy="255.86" r="2.5" fill="#2f44a2" stroke="none"/><path d="M701.11 271.92H707.81M704.46 268.57V275.27M701.98 269.44L706.94 274.40M701.98 274.40L706.94 269.44"/><circle cx="704.46" cy="271.92" r="2.5" fill="#2f44a2" stroke="none"/><path d="M706.67 278.54H713.37M710.02 275.19V281.89M707.54 276.07L712.50 281.02M707.54 281.02L712.50 276.07"/><circle cx="710.02" cy="278.54" r="2.5" fill="#2f44a2" stroke="none"/><path d="M712.24 282.93H718.94M715.59 279.58V286.28M713.11 280.45L718.07 285.41M713.11 285.41L718.07 280.45"/><circle cx="715.59" cy="282.93" r="2.5" fill="#2f44a2" stroke="none"/><path d="M717.80 286.90H724.50M721.15 283.55V290.25M718.68 284.43L723.63 289.38M718.68 289.38L723.63 284.43"/><circle cx="721.15" cy="286.90" r="2.5" fill="#2f44a2" stroke="none"/><path d="M723.37 288.73H730.07M726.72 285.38V292.08M724.24 286.25L729.20 291.20M724.24 291.20L729.20 286.25"/><circle cx="726.72" cy="288.73" r="2.5" fill="#2f44a2" stroke="none"/><path d="M728.94 286.90H735.64M732.29 283.55V290.25M729.81 284.43L734.77 289.38M729.81 289.38L734.77 284.43"/><circle cx="732.29" cy="286.90" r="2.5" fill="#2f44a2" stroke="none"/><path d="M734.50 283.26H741.20M737.85 279.91V286.61M735.37 280.78L740.33 285.74M735.37 285.74L740.33 280.78"/><circle cx="737.85" cy="283.26" r="2.5" fill="#2f44a2" stroke="none"/><path d="M740.07 278.13H746.77M743.42 274.78V281.48M740.94 275.65L745.90 280.61M740.94 280.61L745.90 275.65"/><circle cx="743.42" cy="278.13" r="2.5" fill="#2f44a2" stroke="none"/><path d="M745.64 271.55H752.34M748.99 268.20V274.90M746.51 269.07L751.47 274.03M746.51 274.03L751.47 269.07"/><circle cx="748.99" cy="271.55" r="2.5" fill="#2f44a2" stroke="none"/><path d="M751.20 263.56H757.90M754.55 260.21V266.91M752.07 261.08L757.03 266.04M752.07 266.04L757.03 261.08"/><circle cx="754.55" cy="263.56" r="2.5" fill="#2f44a2" stroke="none"/><path d="M756.77 253.93H763.47M760.12 250.58V257.28M757.64 251.45L762.60 256.41M757.64 256.41L762.60 251.45"/><circle cx="760.12" cy="253.93" r="2.5" fill="#2f44a2" stroke="none"/><path d="M762.33 242.64H769.03M765.68 239.29V245.99M763.21 240.16L768.16 245.12M763.21 245.12L768.16 240.16"/><circle cx="765.68" cy="242.64" r="2.5" fill="#2f44a2" stroke="none"/><path d="M767.90 229.47H774.60M771.25 226.12V232.82M768.77 226.99L773.73 231.95M768.77 231.95L773.73 226.99"/><circle cx="771.25" cy="229.47" r="2.5" fill="#2f44a2" stroke="none"/><path d="M773.47 213.92H780.17M776.82 210.57V217.27M774.34 211.44L779.30 216.40M774.34 216.40L779.30 211.44"/><circle cx="776.82" cy="213.92" r="2.5" fill="#2f44a2" stroke="none"/><path d="M779.03 196.06H785.73M782.38 192.71V199.41M779.90 193.58L784.86 198.54M779.90 198.54L784.86 193.58"/><circle cx="782.38" cy="196.06" r="2.5" fill="#2f44a2" stroke="none"/><path d="M784.60 175.61H791.30M787.95 172.26V178.96M785.47 173.14L790.43 178.09M785.47 178.09L790.43 173.14"/><circle cx="787.95" cy="175.61" r="2.5" fill="#2f44a2" stroke="none"/><path d="M790.17 153.13H796.87M793.52 149.78V156.48M791.04 150.65L796.00 155.61M791.04 155.61L796.00 150.65"/><circle cx="793.52" cy="153.13" r="2.5" fill="#2f44a2" stroke="none"/><path d="M795.73 129.22H802.43M799.08 125.87V132.57M796.60 126.74L801.56 131.70M796.60 131.70L801.56 126.74"/><circle cx="799.08" cy="129.22" r="2.5" fill="#2f44a2" stroke="none"/><path d="M801.30 105.35H808.00M804.65 102.00V108.70M802.17 102.87L807.13 107.83M802.17 107.83L807.13 102.87"/><circle cx="804.65" cy="105.35" r="2.5" fill="#2f44a2" stroke="none"/><path d="M806.86 83.71H813.56M810.21 80.36V87.06M807.74 81.23L812.69 86.19M807.74 86.19L812.69 81.23"/><circle cx="810.21" cy="83.71" r="2.5" fill="#2f44a2" stroke="none"/><path d="M812.43 66.53H819.13M815.78 63.18V69.88M813.30 64.05L818.26 69.01M813.30 69.01L818.26 64.05"/><circle cx="815.78" cy="66.53" r="2.5" fill="#2f44a2" stroke="none"/><path d="M818.00 56.09H824.70M821.35 52.74V59.44M818.87 53.61L823.83 58.57M818.87 58.57L823.83 53.61"/><circle cx="821.35" cy="56.09" r="2.5" fill="#2f44a2" stroke="none"/><path d="M823.56 54.49H830.26M826.91 51.14V57.84M824.43 52.01L829.39 56.97M824.43 56.97L829.39 52.01"/><circle cx="826.91" cy="54.49" r="2.5" fill="#2f44a2" stroke="none"/><path d="M829.13 61.85H835.83M832.48 58.50V65.20M830.00 59.37L834.96 64.33M830.00 64.33L834.96 59.37"/><circle cx="832.48" cy="61.85" r="2.5" fill="#2f44a2" stroke="none"/><path d="M834.70 76.85H841.40M838.05 73.50V80.20M835.57 74.37L840.53 79.33M835.57 79.33L840.53 74.37"/><circle cx="838.05" cy="76.85" r="2.5" fill="#2f44a2" stroke="none"/><path d="M840.26 96.83H846.96M843.61 93.48V100.18M841.13 94.35L846.09 99.31M841.13 99.31L846.09 94.35"/><circle cx="843.61" cy="96.83" r="2.5" fill="#2f44a2" stroke="none"/><path d="M845.83 119.10H852.53M849.18 115.75V122.45M846.70 116.62L851.66 121.58M846.70 121.58L851.66 116.62"/><circle cx="849.18" cy="119.10" r="2.5" fill="#2f44a2" stroke="none"/><path d="M851.39 141.64H858.09M854.74 138.29V144.99M852.27 139.17L857.22 144.12M852.27 144.12L857.22 139.17"/><circle cx="854.74" cy="141.64" r="2.5" fill="#2f44a2" stroke="none"/><path d="M856.96 163.22H863.66M860.31 159.87V166.57M857.83 160.74L862.79 165.70M857.83 165.70L862.79 160.74"/><circle cx="860.31" cy="163.22" r="2.5" fill="#2f44a2" stroke="none"/><path d="M862.53 183.15H869.23M865.88 179.80V186.50M863.40 180.67L868.36 185.63M863.40 185.63L868.36 180.67"/><circle cx="865.88" cy="183.15" r="2.5" fill="#2f44a2" stroke="none"/><path d="M868.09 201.00H874.79M871.44 197.65V204.35M868.96 198.53L873.92 203.48M868.96 203.48L873.92 198.53"/><circle cx="871.44" cy="201.00" r="2.5" fill="#2f44a2" stroke="none"/><path d="M873.66 216.71H880.36M877.01 213.36V220.06M874.53 214.23L879.49 219.19M874.53 219.19L879.49 214.23"/><circle cx="877.01" cy="216.71" r="2.5" fill="#2f44a2" stroke="none"/><path d="M879.23 230.54H885.93M882.58 227.19V233.89M880.10 228.06L885.06 233.02M880.10 233.02L885.06 228.06"/><circle cx="882.58" cy="230.54" r="2.5" fill="#2f44a2" stroke="none"/><path d="M884.79 242.54H891.49M888.14 239.19V245.89M885.66 240.06L890.62 245.02M885.66 245.02L890.62 240.06"/><circle cx="888.14" cy="242.54" r="2.5" fill="#2f44a2" stroke="none"/><path d="M890.36 253.36H897.06M893.71 250.01V256.71M891.23 250.88L896.19 255.84M891.23 255.84L896.19 250.88"/><circle cx="893.71" cy="253.36" r="2.5" fill="#2f44a2" stroke="none"/><path d="M895.93 262.86H902.63M899.28 259.51V266.21M896.80 260.38L901.75 265.34M896.80 265.34L901.75 260.38"/><circle cx="899.28" cy="262.86" r="2.5" fill="#2f44a2" stroke="none"/><path d="M901.49 270.73H908.19M904.84 267.38V274.08M902.36 268.25L907.32 273.21M902.36 273.21L907.32 268.25"/><circle cx="904.84" cy="270.73" r="2.5" fill="#2f44a2" stroke="none"/><path d="M907.06 277.43H913.76M910.41 274.08V280.78M907.93 274.95L912.89 279.91M907.93 279.91L912.89 274.95"/><circle cx="910.41" cy="277.43" r="2.5" fill="#2f44a2" stroke="none"/><path d="M912.62 283.55H919.32M915.97 280.20V286.90M913.49 281.07L918.45 286.03M913.49 286.03L918.45 281.07"/><circle cx="915.97" cy="283.55" r="2.5" fill="#2f44a2" stroke="none"/><path d="M918.19 289.16H924.89M921.54 285.81V292.51M919.06 286.68L924.02 291.64M919.06 291.64L924.02 286.68"/><circle cx="921.54" cy="289.16" r="2.5" fill="#2f44a2" stroke="none"/><path d="M923.76 293.76H930.46M927.11 290.41V297.11M924.63 291.28L929.59 296.24M924.63 296.24L929.59 291.28"/><circle cx="927.11" cy="293.76" r="2.5" fill="#2f44a2" stroke="none"/><path d="M929.32 297.62H936.02M932.67 294.27V300.97M930.19 295.15L935.15 300.10M930.19 300.10L935.15 295.15"/><circle cx="932.67" cy="297.62" r="2.5" fill="#2f44a2" stroke="none"/><path d="M934.89 301.30H941.59M938.24 297.95V304.65M935.76 298.82L940.72 303.78M935.76 303.78L940.72 298.82"/><circle cx="938.24" cy="301.30" r="2.5" fill="#2f44a2" stroke="none"/><path d="M940.45 304.66H947.15M943.80 301.31V308.01M941.33 302.18L946.28 307.14M941.33 307.14L946.28 302.18"/><circle cx="943.80" cy="304.66" r="2.5" fill="#2f44a2" stroke="none"/><path d="M946.02 307.46H952.72M949.37 304.11V310.81M946.89 304.98L951.85 309.94M946.89 309.94L951.85 304.98"/><circle cx="949.37" cy="307.46" r="2.5" fill="#2f44a2" stroke="none"/><path d="M951.59 309.58H958.29M954.94 306.23V312.93M952.46 307.10L957.42 312.06M952.46 312.06L957.42 307.10"/><circle cx="954.94" cy="309.58" r="2.5" fill="#2f44a2" stroke="none"/><path d="M957.15 311.55H963.85M960.50 308.20V314.90M958.02 309.07L962.98 314.03M958.02 314.03L962.98 309.07"/><circle cx="960.50" cy="311.55" r="2.5" fill="#2f44a2" stroke="none"/><path d="M962.72 313.59H969.42M966.07 310.24V316.94M963.59 311.11L968.55 316.07M963.59 316.07L968.55 311.11"/><circle cx="966.07" cy="313.59" r="2.5" fill="#2f44a2" stroke="none"/><path d="M968.29 315.45H974.99M971.64 312.10V318.80M969.16 312.98L974.12 317.93M969.16 317.93L974.12 312.98"/><circle cx="971.64" cy="315.45" r="2.5" fill="#2f44a2" stroke="none"/><path d="M973.85 317.15H980.55M977.20 313.80V320.50M974.72 314.67L979.68 319.63M974.72 319.63L979.68 314.67"/><circle cx="977.20" cy="317.15" r="2.5" fill="#2f44a2" stroke="none"/><path d="M979.42 318.69H986.12M982.77 315.34V322.04M980.29 316.21L985.25 321.17M980.29 321.17L985.25 316.21"/><circle cx="982.77" cy="318.69" r="2.5" fill="#2f44a2" stroke="none"/><path d="M984.98 320.09H991.68M988.33 316.74V323.44M985.86 317.61L990.81 322.57M985.86 322.57L990.81 317.61"/><circle cx="988.33" cy="320.09" r="2.5" fill="#2f44a2" stroke="none"/><path d="M990.55 321.36H997.25M993.90 318.01V324.71M991.42 318.88L996.38 323.84M991.42 323.84L996.38 318.88"/><circle cx="993.90" cy="321.36" r="2.5" fill="#2f44a2" stroke="none"/><path d="M996.12 322.35H1002.82M999.47 319.00V325.70M996.99 319.87L1001.95 324.83M996.99 324.83L1001.95 319.87"/><circle cx="999.47" cy="322.35" r="2.5" fill="#2f44a2" stroke="none"/><path d="M1001.68 323.06H1008.38M1005.03 319.71V326.41M1002.55 320.58L1007.51 325.54M1002.55 325.54L1007.51 320.58"/><circle cx="1005.03" cy="323.06" r="2.5" fill="#2f44a2" stroke="none"/><path d="M1007.25 323.94H1013.95M1010.60 320.59V327.29M1008.12 321.46L1013.08 326.42M1008.12 326.42L1013.08 321.46"/><circle cx="1010.60" cy="323.94" r="2.5" fill="#2f44a2" stroke="none"/></g>
<path d="M565.30 323.33 L570.87 321.75 L576.43 320.26 L582.00 318.77 L587.56 317.12 L593.13 315.05 L598.70 312.56 L604.26 310.08 L609.83 307.18 L615.40 303.46 L620.96 298.58 L626.53 292.53 L632.09 285.99 L637.66 277.63 L643.23 266.62 L648.79 253.38 L654.36 238.20 L659.93 222.22 L665.49 209.07 L671.06 203.53 L676.62 208.21 L682.19 221.34 L687.76 238.23 L693.32 254.54 L698.89 267.54 L704.46 276.14 L710.02 280.70 L715.59 284.01 L721.15 286.90 L726.72 287.98 L732.29 287.32 L737.85 284.01 L743.42 278.21 L748.99 271.43 L754.55 263.46 L760.12 253.84 L765.68 242.56 L771.25 229.41 L776.82 213.88 L782.38 196.03 L787.95 175.62 L793.52 153.16 L799.08 129.27 L804.65 105.42 L810.21 83.78 L815.78 66.58 L821.35 56.12 L826.91 54.48 L832.48 61.81 L838.05 76.80 L843.61 96.78 L849.18 119.06 L854.74 141.62 L860.31 163.21 L865.88 183.15 L871.44 201.01 L877.01 216.72 L882.58 230.56 L888.14 242.56 L893.71 253.38 L899.28 262.88 L904.84 270.75 L910.41 277.46 L915.97 283.57 L921.54 289.19 L927.11 293.79 L932.67 297.65 L938.24 301.33 L943.80 304.69 L949.37 307.50 L954.94 309.71 L960.50 311.73 L966.07 313.76 L971.64 315.62 L977.20 317.31 L982.77 318.85 L988.33 320.24 L993.90 321.51 L999.47 322.47 L1005.03 323.11 L1010.60 323.97" fill="none" stroke="#e8272b" stroke-width="1.9" stroke-linejoin="round"/>
<g stroke="#e8272b" stroke-width="1.6" fill="none"><path d="M562.70 320.73L567.90 325.93M562.70 325.93L567.90 320.73"/><path d="M568.27 319.15L573.47 324.35M568.27 324.35L573.47 319.15"/><path d="M573.83 317.66L579.03 322.86M573.83 322.86L579.03 317.66"/><path d="M579.40 316.17L584.60 321.37M579.40 321.37L584.60 316.17"/><path d="M584.96 314.52L590.16 319.72M584.96 319.72L590.16 314.52"/><path d="M590.53 312.45L595.73 317.65M590.53 317.65L595.73 312.45"/><path d="M596.10 309.96L601.30 315.16M596.10 315.16L601.30 309.96"/><path d="M601.66 307.48L606.86 312.68M601.66 312.68L606.86 307.48"/><path d="M607.23 304.58L612.43 309.78M607.23 309.78L612.43 304.58"/><path d="M612.80 300.86L618.00 306.06M612.80 306.06L618.00 300.86"/><path d="M618.36 295.98L623.56 301.18M618.36 301.18L623.56 295.98"/><path d="M623.93 289.93L629.13 295.13M623.93 295.13L629.13 289.93"/><path d="M629.49 283.39L634.69 288.59M629.49 288.59L634.69 283.39"/><path d="M635.06 275.03L640.26 280.23M635.06 280.23L640.26 275.03"/><path d="M640.63 264.02L645.83 269.22M640.63 269.22L645.83 264.02"/><path d="M646.19 250.78L651.39 255.98M646.19 255.98L651.39 250.78"/><path d="M651.76 235.60L656.96 240.80M651.76 240.80L656.96 235.60"/><path d="M657.33 219.62L662.53 224.82M657.33 224.82L662.53 219.62"/><path d="M662.89 206.47L668.09 211.67M662.89 211.67L668.09 206.47"/><path d="M668.46 200.93L673.66 206.13M668.46 206.13L673.66 200.93"/><path d="M674.02 205.61L679.22 210.81M674.02 210.81L679.22 205.61"/><path d="M679.59 218.74L684.79 223.94M679.59 223.94L684.79 218.74"/><path d="M685.16 235.63L690.36 240.83M685.16 240.83L690.36 235.63"/><path d="M690.72 251.94L695.92 257.14M690.72 257.14L695.92 251.94"/><path d="M696.29 264.94L701.49 270.14M696.29 270.14L701.49 264.94"/><path d="M701.86 273.54L707.06 278.74M701.86 278.74L707.06 273.54"/><path d="M707.42 278.10L712.62 283.30M707.42 283.30L712.62 278.10"/><path d="M712.99 281.41L718.19 286.61M712.99 286.61L718.19 281.41"/><path d="M718.55 284.30L723.75 289.50M718.55 289.50L723.75 284.30"/><path d="M724.12 285.38L729.32 290.58M724.12 290.58L729.32 285.38"/><path d="M729.69 284.72L734.89 289.92M729.69 289.92L734.89 284.72"/><path d="M735.25 281.41L740.45 286.61M735.25 286.61L740.45 281.41"/><path d="M740.82 275.61L746.02 280.81M740.82 280.81L746.02 275.61"/><path d="M746.39 268.83L751.59 274.03M746.39 274.03L751.59 268.83"/><path d="M751.95 260.86L757.15 266.06M751.95 266.06L757.15 260.86"/><path d="M757.52 251.24L762.72 256.44M757.52 256.44L762.72 251.24"/><path d="M763.08 239.96L768.28 245.16M763.08 245.16L768.28 239.96"/><path d="M768.65 226.81L773.85 232.01M768.65 232.01L773.85 226.81"/><path d="M774.22 211.28L779.42 216.48M774.22 216.48L779.42 211.28"/><path d="M779.78 193.43L784.98 198.63M779.78 198.63L784.98 193.43"/><path d="M785.35 173.02L790.55 178.22M785.35 178.22L790.55 173.02"/><path d="M790.92 150.56L796.12 155.76M790.92 155.76L796.12 150.56"/><path d="M796.48 126.67L801.68 131.87M796.48 131.87L801.68 126.67"/><path d="M802.05 102.82L807.25 108.02M802.05 108.02L807.25 102.82"/><path d="M807.61 81.18L812.81 86.38M807.61 86.38L812.81 81.18"/><path d="M813.18 63.98L818.38 69.18M813.18 69.18L818.38 63.98"/><path d="M818.75 53.52L823.95 58.72M818.75 58.72L823.95 53.52"/><path d="M824.31 51.88L829.51 57.08M824.31 57.08L829.51 51.88"/><path d="M829.88 59.21L835.08 64.41M829.88 64.41L835.08 59.21"/><path d="M835.45 74.20L840.65 79.40M835.45 79.40L840.65 74.20"/><path d="M841.01 94.18L846.21 99.38M841.01 99.38L846.21 94.18"/><path d="M846.58 116.46L851.78 121.66M846.58 121.66L851.78 116.46"/><path d="M852.14 139.02L857.34 144.22M852.14 144.22L857.34 139.02"/><path d="M857.71 160.61L862.91 165.81M857.71 165.81L862.91 160.61"/><path d="M863.28 180.55L868.48 185.75M863.28 185.75L868.48 180.55"/><path d="M868.84 198.41L874.04 203.61M868.84 203.61L874.04 198.41"/><path d="M874.41 214.12L879.61 219.32M874.41 219.32L879.61 214.12"/><path d="M879.98 227.96L885.18 233.16M879.98 233.16L885.18 227.96"/><path d="M885.54 239.96L890.74 245.16M885.54 245.16L890.74 239.96"/><path d="M891.11 250.78L896.31 255.98M891.11 255.98L896.31 250.78"/><path d="M896.68 260.28L901.88 265.48M896.68 265.48L901.88 260.28"/><path d="M902.24 268.15L907.44 273.35M902.24 273.35L907.44 268.15"/><path d="M907.81 274.86L913.01 280.06M907.81 280.06L913.01 274.86"/><path d="M913.37 280.97L918.57 286.17M913.37 286.17L918.57 280.97"/><path d="M918.94 286.59L924.14 291.79M918.94 291.79L924.14 286.59"/><path d="M924.51 291.19L929.71 296.39M924.51 296.39L929.71 291.19"/><path d="M930.07 295.05L935.27 300.25M930.07 300.25L935.27 295.05"/><path d="M935.64 298.73L940.84 303.93M935.64 303.93L940.84 298.73"/><path d="M941.20 302.09L946.40 307.29M941.20 307.29L946.40 302.09"/><path d="M946.77 304.90L951.97 310.10M946.77 310.10L951.97 304.90"/><path d="M952.34 307.11L957.54 312.31M952.34 312.31L957.54 307.11"/><path d="M957.90 309.13L963.10 314.33M957.90 314.33L963.10 309.13"/><path d="M963.47 311.16L968.67 316.36M963.47 316.36L968.67 311.16"/><path d="M969.04 313.02L974.24 318.22M969.04 318.22L974.24 313.02"/><path d="M974.60 314.71L979.80 319.91M974.60 319.91L979.80 314.71"/><path d="M980.17 316.25L985.37 321.45M980.17 321.45L985.37 316.25"/><path d="M985.73 317.64L990.93 322.84M985.73 322.84L990.93 317.64"/><path d="M991.30 318.91L996.50 324.11M991.30 324.11L996.50 318.91"/><path d="M996.87 319.87L1002.07 325.07M996.87 325.07L1002.07 319.87"/><path d="M1002.43 320.51L1007.63 325.71M1002.43 325.71L1007.63 320.51"/><path d="M1008.00 321.37L1013.20 326.57M1008.00 326.57L1013.20 321.37"/></g>
<path d="M565.30 324.15 L570.87 322.91 L576.43 321.75 L582.00 320.68 L587.56 319.10 L593.13 317.37 L598.70 314.63 L604.26 312.15 L609.83 309.67 L615.40 305.94 L620.96 302.38 L626.53 297.50 L632.09 292.04 L637.66 285.99 L643.23 280.53 L648.79 273.16 L654.36 266.39 L659.93 260.76 L665.49 256.52 L671.06 254.81 L676.62 256.35 L682.19 260.43 L687.76 265.92 L693.32 271.62 L698.89 276.78 L704.46 281.21 L710.02 284.81 L715.59 285.75 L721.15 286.08 L726.72 285.08 L732.29 282.93 L737.85 278.63 L743.42 274.07 L748.99 269.10 L754.55 261.64 L760.12 252.45 L765.68 241.51 L771.25 228.69 L776.82 213.41 L782.38 195.81 L787.95 175.63 L793.52 153.17 L799.08 129.26 L804.65 105.40 L810.21 83.75 L815.78 66.56 L821.35 56.10 L826.91 54.47 L832.48 61.82 L838.05 76.81 L843.61 96.79 L849.18 119.07 L854.74 141.63 L860.31 163.21 L865.88 183.15 L871.44 201.01 L877.01 216.72 L882.58 230.55 L888.14 242.55 L893.71 253.37 L899.28 262.88 L904.84 270.75 L910.41 277.45 L915.97 283.57 L921.54 289.18 L927.11 293.78 L932.67 297.64 L938.24 301.32 L943.80 304.68 L949.37 307.50 L954.94 309.70 L960.50 311.72 L966.07 313.76 L971.64 315.62 L977.20 317.32 L982.77 318.85 L988.33 320.26 L993.90 321.52 L999.47 322.48 L1005.03 323.12 L1010.60 323.98" fill="none" stroke="#64bb45" stroke-width="1.9" stroke-linejoin="round"/>
<g stroke="#64bb45" stroke-width="2.0" fill="none"><path d="M561.90 324.15H568.70M565.30 320.75V327.55"/><path d="M567.47 322.91H574.27M570.87 319.51V326.31"/><path d="M573.03 321.75H579.83M576.43 318.35V325.15"/><path d="M578.60 320.68H585.40M582.00 317.28V324.08"/><path d="M584.16 319.10H590.96M587.56 315.70V322.50"/><path d="M589.73 317.37H596.53M593.13 313.97V320.77"/><path d="M595.30 314.63H602.10M598.70 311.23V318.03"/><path d="M600.86 312.15H607.66M604.26 308.75V315.55"/><path d="M606.43 309.67H613.23M609.83 306.27V313.07"/><path d="M612.00 305.94H618.80M615.40 302.54V309.34"/><path d="M617.56 302.38H624.36M620.96 298.98V305.78"/><path d="M623.13 297.50H629.93M626.53 294.10V300.90"/><path d="M628.69 292.04H635.49M632.09 288.64V295.44"/><path d="M634.26 285.99H641.06M637.66 282.59V289.39"/><path d="M639.83 280.53H646.63M643.23 277.13V283.93"/><path d="M645.39 273.16H652.19M648.79 269.76V276.56"/><path d="M650.96 266.39H657.76M654.36 262.99V269.79"/><path d="M656.53 260.76H663.33M659.93 257.36V264.16"/><path d="M662.09 256.52H668.89M665.49 253.12V259.92"/><path d="M667.66 254.81H674.46M671.06 251.41V258.21"/><path d="M673.22 256.35H680.02M676.62 252.95V259.75"/><path d="M678.79 260.43H685.59M682.19 257.03V263.83"/><path d="M684.36 265.92H691.16M687.76 262.52V269.32"/><path d="M689.92 271.62H696.72M693.32 268.22V275.02"/><path d="M695.49 276.78H702.29M698.89 273.38V280.18"/><path d="M701.06 281.21H707.86M704.46 277.81V284.61"/><path d="M706.62 284.81H713.42M710.02 281.41V288.21"/><path d="M712.19 285.75H718.99M715.59 282.35V289.15"/><path d="M717.75 286.08H724.55M721.15 282.68V289.48"/><path d="M723.32 285.08H730.12M726.72 281.68V288.48"/><path d="M728.89 282.93H735.69M732.29 279.53V286.33"/><path d="M734.45 278.63H741.25M737.85 275.23V282.03"/><path d="M740.02 274.07H746.82M743.42 270.67V277.47"/><path d="M745.59 269.10H752.39M748.99 265.70V272.50"/><path d="M751.15 261.64H757.95M754.55 258.24V265.04"/><path d="M756.72 252.45H763.52M760.12 249.05V255.85"/><path d="M762.28 241.51H769.08M765.68 238.11V244.91"/><path d="M767.85 228.69H774.65M771.25 225.29V232.09"/><path d="M773.42 213.41H780.22M776.82 210.01V216.81"/><path d="M778.98 195.81H785.78M782.38 192.41V199.21"/><path d="M784.55 175.63H791.35M787.95 172.23V179.03"/><path d="M790.12 153.17H796.92M793.52 149.77V156.57"/><path d="M795.68 129.26H802.48M799.08 125.86V132.66"/><path d="M801.25 105.40H808.05M804.65 102.00V108.80"/><path d="M806.81 83.75H813.61M810.21 80.35V87.15"/><path d="M812.38 66.56H819.18M815.78 63.16V69.96"/><path d="M817.95 56.10H824.75M821.35 52.70V59.50"/><path d="M823.51 54.47H830.31M826.91 51.07V57.87"/><path d="M829.08 61.82H835.88M832.48 58.42V65.22"/><path d="M834.65 76.81H841.45M838.05 73.41V80.21"/><path d="M840.21 96.79H847.01M843.61 93.39V100.19"/><path d="M845.78 119.07H852.58M849.18 115.67V122.47"/><path d="M851.34 141.63H858.14M854.74 138.23V145.03"/><path d="M856.91 163.21H863.71M860.31 159.81V166.61"/><path d="M862.48 183.15H869.28M865.88 179.75V186.55"/><path d="M868.04 201.01H874.84M871.44 197.61V204.41"/><path d="M873.61 216.72H880.41M877.01 213.32V220.12"/><path d="M879.18 230.55H885.98M882.58 227.15V233.95"/><path d="M884.74 242.55H891.54M888.14 239.15V245.95"/><path d="M890.31 253.37H897.11M893.71 249.97V256.77"/><path d="M895.88 262.88H902.68M899.28 259.48V266.28"/><path d="M901.44 270.75H908.24M904.84 267.35V274.15"/><path d="M907.01 277.45H913.81M910.41 274.05V280.85"/><path d="M912.57 283.57H919.37M915.97 280.17V286.97"/><path d="M918.14 289.18H924.94M921.54 285.78V292.58"/><path d="M923.71 293.78H930.51M927.11 290.38V297.18"/><path d="M929.27 297.64H936.07M932.67 294.24V301.04"/><path d="M934.84 301.32H941.64M938.24 297.92V304.72"/><path d="M940.40 304.68H947.20M943.80 301.28V308.08"/><path d="M945.97 307.50H952.77M949.37 304.10V310.90"/><path d="M951.54 309.70H958.34M954.94 306.30V313.10"/><path d="M957.10 311.72H963.90M960.50 308.32V315.12"/><path d="M962.67 313.76H969.47M966.07 310.36V317.16"/><path d="M968.24 315.62H975.04M971.64 312.22V319.02"/><path d="M973.80 317.32H980.60M977.20 313.92V320.72"/><path d="M979.37 318.85H986.17M982.77 315.45V322.25"/><path d="M984.93 320.26H991.73M988.33 316.86V323.66"/><path d="M990.50 321.52H997.30M993.90 318.12V324.92"/><path d="M996.07 322.48H1002.87M999.47 319.08V325.88"/><path d="M1001.63 323.12H1008.43M1005.03 319.72V326.52"/><path d="M1007.20 323.98H1014.00M1010.60 320.58V327.38"/></g>
<rect x="53.9" y="19.5" width="137.4" height="109.6" fill="#fff" stroke="#242424" stroke-width="1.5"/>
<path d="M63.4 39.4H112.5" stroke="#2f44a2" stroke-width="1.9"/>
<g stroke="#2f44a2" stroke-width="1.4" fill="none"><path d="M84.55 39.40H91.25M87.90 36.05V42.75M85.42 36.92L90.38 41.88M85.42 41.88L90.38 36.92"/><circle cx="87.90" cy="39.40" r="2.5" fill="#2f44a2" stroke="none"/></g>
<text x="117.4" y="42.8">ζ<tspan style="font-size:14px" dy="9.9">1</tspan><tspan dy="-9.9">=</tspan><tspan dx="1.4">0.01</tspan></text>
<path d="M63.4 74.3H112.5" stroke="#e8272b" stroke-width="1.9"/>
<g stroke="#e8272b" stroke-width="1.6" fill="none"><path d="M85.30 71.70L90.50 76.90M85.30 76.90L90.50 71.70"/></g>
<text x="117.4" y="77.7">ζ<tspan style="font-size:14px" dy="9.9">1</tspan><tspan dy="-9.9">=</tspan><tspan dx="1.4">0.02</tspan></text>
<path d="M63.4 109.19999999999999H112.5" stroke="#64bb45" stroke-width="1.9"/>
<g stroke="#64bb45" stroke-width="2.0" fill="none"><path d="M84.50 109.20H91.30M87.90 105.80V112.60"/></g>
<text x="117.4" y="112.6">ζ<tspan style="font-size:14px" dy="9.9">1</tspan><tspan dy="-9.9">=</tspan><tspan dx="1.4">0.03</tspan></text>
<rect x="864.8" y="19.5" width="137.4" height="109.6" fill="#fff" stroke="#242424" stroke-width="1.5"/>
<path d="M874.3 39.4H923.4" stroke="#2f44a2" stroke-width="1.9"/>
<g stroke="#2f44a2" stroke-width="1.4" fill="none"><path d="M895.45 39.40H902.15M898.80 36.05V42.75M896.32 36.92L901.28 41.88M896.32 41.88L901.28 36.92"/><circle cx="898.80" cy="39.40" r="2.5" fill="#2f44a2" stroke="none"/></g>
<text x="928.3" y="42.8">ζ<tspan style="font-size:14px" dy="9.9">2</tspan><tspan dy="-9.9">=</tspan><tspan dx="1.4">0.01</tspan></text>
<path d="M874.3 74.3H923.4" stroke="#e8272b" stroke-width="1.9"/>
<g stroke="#e8272b" stroke-width="1.6" fill="none"><path d="M896.20 71.70L901.40 76.90M896.20 76.90L901.40 71.70"/></g>
<text x="928.3" y="77.7">ζ<tspan style="font-size:14px" dy="9.9">2</tspan><tspan dy="-9.9">=</tspan><tspan dx="1.4">0.02</tspan></text>
<path d="M874.3 109.19999999999999H923.4" stroke="#64bb45" stroke-width="1.9"/>
<g stroke="#64bb45" stroke-width="2.0" fill="none"><path d="M895.40 109.20H902.20M898.80 105.80V112.60"/></g>
<text x="928.3" y="112.6">ζ<tspan style="font-size:14px" dy="9.9">2</tspan><tspan dy="-9.9">=</tspan><tspan dx="1.4">0.03</tspan></text>
<text x="443.5" y="38.4" style="font-size:24px">(a)</text>
<text x="583.5" y="36.7" style="font-size:24px">(b)</text>
<text x="249.1" y="389.8" style="font-size:21.5px"><tspan style="font-style:italic">ω</tspan><tspan x="260.3">/</tspan><tspan x="266.8">ω</tspan><tspan x="280.6" dy="10.2" style="font-size:14px">1</tspan></text>
<text transform="translate(17.6,177.2) rotate(-90)" text-anchor="middle"><tspan style="font-style:italic">P</tspan> (mW)</text>
<text x="769.1" y="389.8" style="font-size:21.5px"><tspan style="font-style:italic">ω</tspan><tspan x="780.3">/</tspan><tspan x="786.7">ω</tspan><tspan x="800.5" dy="10.2" style="font-size:14px">1</tspan></text>
<text transform="translate(537.6,177.2) rotate(-90)" text-anchor="middle"><tspan style="font-style:italic">P</tspan> (mW)</text>
</svg>
</body></html>
